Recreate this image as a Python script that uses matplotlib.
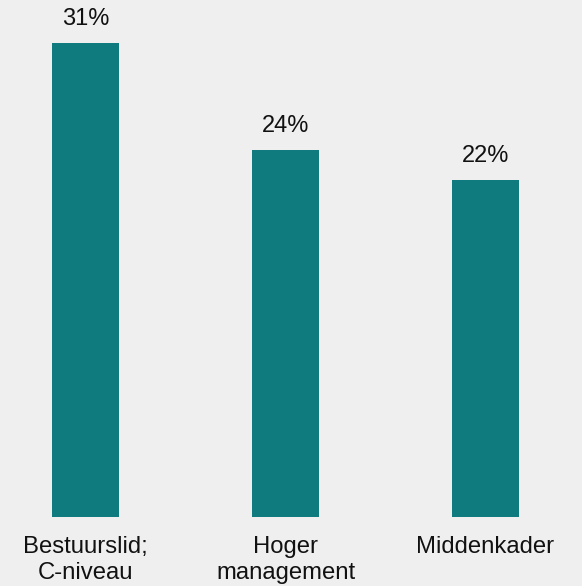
import matplotlib
matplotlib.use("Agg")
import matplotlib.pyplot as plt

categories = ["Bestuurslid;\nC-niveau", "Hoger\nmanagement", "Middenkader"]
values = [31, 24, 22]
value_labels = ["31%", "24%", "22%"]

BG = "#EFEFEF"
BAR = "#0F7B7F"

plt.rcParams["font.family"] = ["Liberation Sans", "DejaVu Sans"]

fig = plt.figure(figsize=(5.82, 5.86), dpi=100, facecolor=BG)
ax = fig.add_axes([0, 69 / 586, 1, 517 / 586])
ax.set_facecolor(BG)

x = list(range(len(categories)))
ax.bar(x, values, width=0.335, color=BAR)

for xi, v, lab in zip(x, values, value_labels):
    ax.annotate(lab, (xi, v), xytext=(0, 13), textcoords="offset points",
                ha="center", va="baseline", fontsize=17, color="#111111")

ax.set_xlim(-0.4275, 2.4825)
ax.set_ylim(0, 33.8)
ax.set_xticks(x)
ax.set_xticklabels(categories, fontsize=17.2, color="#111111", linespacing=1.2)
ax.tick_params(axis="x", length=0, pad=14)
ax.set_yticks([])
for s in ax.spines.values():
    s.set_visible(False)

fig.savefig("out.png", dpi=100, facecolor=BG)
